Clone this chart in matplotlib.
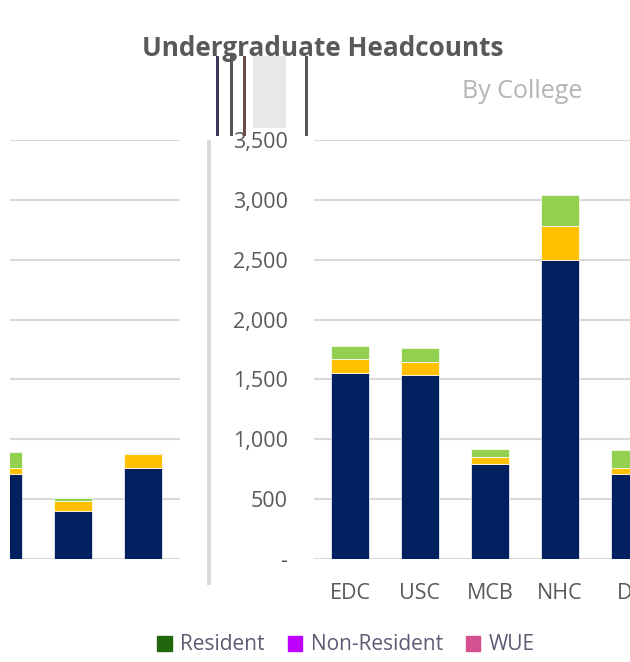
import numpy as np
import matplotlib.pyplot as plt
from matplotlib.patches import Rectangle, Patch
from matplotlib.ticker import FuncFormatter

# Data
colleges = ["EDC", "USC", "MCB", "NHC", "DL"]
resident = [1550, 1533, 790, 2497, 714]
non_resident = [122, 111, 63, 286, 50]
wue = [111, 117, 64, 256, 144]

# left (partly hidden) panel
left_resident = [706, 403, 756]
left_non_resident = [50, 80, 117]
left_wue = [138, 28, 10]

series = ["Resident", "Non-Resident", "WUE"]
bar_colors = ["#002060", "#ffc000", "#92d050"]
legend_colors = ["#22660e", "#c000ff", "#d4508f"]
grey = "#595959"

plt.rcParams['font.family'] = ['Open Sans', 'DejaVu Sans']

fig = plt.figure(figsize=(6.3, 6.62), dpi=100)

W, H = 630, 662


def fx(px):
    return px / W


def fy(py):
    return 1 - py / H


def fmt(v, pos):
    return "-" if v == 0 else f"{v:,.0f}"


def stack(ax, x, a, b, c):
    a, b, c = np.array(a), np.array(b), np.array(c)
    ax.bar(x, a, 0.555, color=bar_colors[0], edgecolor="white", linewidth=0.5, zorder=3)
    ax.bar(x, b, 0.555, bottom=a, color=bar_colors[1], edgecolor="white", linewidth=0.5, zorder=3)
    ax.bar(x, c, 0.555, bottom=a + b, color=bar_colors[2], edgecolor="white", linewidth=0.5, zorder=3)


# right panel
ax = fig.add_axes([fx(314), fy(559), 1 - fx(314), fy(140) - fy(559)])
x = np.arange(len(colleges))
stack(ax, x, resident, non_resident, wue)
ax.set_xlim(-0.514, 4.0)
ax.set_ylim(0, 3500)
ax.set_yticks(np.arange(0, 3501, 500))
ax.yaxis.set_major_formatter(FuncFormatter(fmt))
ax.set_xticks(x)
ax.set_xticklabels(colleges)
ax.tick_params(length=0, labelsize=15.5, labelcolor=grey)
ax.tick_params(axis="y", pad=19)
ax.tick_params(axis="x", pad=17)
ax.grid(axis="y", color="#d9d9d9", linewidth=1.5, zorder=0)
for s in ax.spines.values():
    s.set_visible(False)

# left panel
ax2 = fig.add_axes([fx(10), fy(559), fx(170), fy(140) - fy(559)])
stack(ax2, np.arange(3), left_resident, left_non_resident, left_wue)
ax2.set_xlim(0.1, 2.529)
ax2.set_ylim(0, 3500)
ax2.set_yticks(np.arange(0, 3501, 500))
ax2.set_xticks([])
ax2.tick_params(length=0, labelleft=False)
ax2.grid(axis="y", color="#d9d9d9", linewidth=1.5, zorder=0)
for s in ax2.spines.values():
    s.set_visible(False)

# divider strip and header artifacts
fig.add_artist(Rectangle((fx(207), fy(585)), fx(4), fy(140) - fy(585), transform=fig.transFigure,
                         color="#d9d9d9", lw=0))
fig.add_artist(Rectangle((fx(253), fy(128)), fx(33), fy(56) - fy(128), transform=fig.transFigure,
                         color="#e8e8e8", lw=0))
for px, c in [(216, "#3a3a5a"), (230, "#555555"), (243, "#6a4a4a"), (305, "#555555")]:
    fig.add_artist(Rectangle((fx(px), fy(136)), fx(2.5), fy(56) - fy(136), transform=fig.transFigure,
                             color=c, lw=0))

fig.text(fx(323), fy(56), "Undergraduate Headcounts", ha="center", va="baseline",
         fontsize=18.8, fontweight="bold", color=grey)
fig.text(fx(522), fy(91), "By College", ha="center", va="center", fontsize=18, color="#b4b4b4")

handles = [Patch(color=c, label=s) for c, s in zip(legend_colors, series)]
fig.legend(handles=handles, loc="center", bbox_to_anchor=(fx(346), fy(645)), ncol=3,
           frameon=False, fontsize=15, labelcolor="#5b5b73", handlelength=0.7, handleheight=0.7,
           handletextpad=0.4, columnspacing=1.1)

fig.savefig("out.png", dpi=100)
